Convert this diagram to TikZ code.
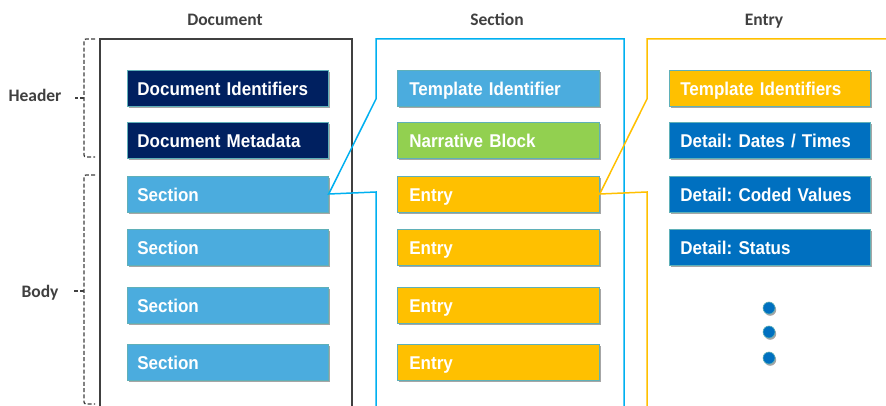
\documentclass[tikz,border=0pt]{standalone}
\usepackage{fontspec}
\setmainfont{Liberation Sans}
\newfontfamily\boxfont[FakeStretch=0.92]{Liberation Sans}
\newfontfamily\hdrfont{Carlito}
\usetikzlibrary{shadows}
\definecolor{navy}{HTML}{002060}
\definecolor{lblue}{HTML}{4BACDE}
\definecolor{lgreen}{HTML}{92D050}
\definecolor{yel}{HTML}{FFC000}
\definecolor{dblue}{HTML}{0070C0}
\definecolor{cyanf}{HTML}{00B0F0}
\definecolor{txtgray}{HTML}{404040}
\definecolor{edgec}{HTML}{5FB0B8}
\begin{document}
\frenchspacing
\begin{tikzpicture}[x=1pt,y=-1pt,
  shad/.style={drop shadow={shadow xshift=1.2pt, shadow yshift=-1.8pt, opacity=0.35, fill=black}},
  bx/.style={draw=edgec, line width=0.7pt, anchor=west, minimum height=36pt,
    text width=181pt, inner xsep=10pt, inner ysep=0pt, align=left, text=white,
    text height=14.4pt, text depth=0pt,
    font=\boxfont\fontsize{18.5}{21}\selectfont\bfseries\frenchspacing, shad},
  sbx/.style={bx, text width=178pt, inner xsep=12pt},
  ebx/.style={bx, text width=179pt, inner xsep=11pt},
  hdr/.style={font=\hdrfont\fontsize{17.5}{20}\selectfont\bfseries, text=txtgray, inner sep=0pt, anchor=base},
  brk/.style={draw=txtgray, dashed, dash pattern=on 4pt off 2.2pt, line width=1.3pt, rounded corners=2pt},
  dotc/.style={circle, fill=dblue, draw=edgec, line width=0.6pt, minimum size=12pt, inner sep=0pt, shad}
]
\useasboundingbox (0,0) rectangle (886,406);
\clip (0,0) rectangle (886,406);
\fill[white] (0,0) rectangle (886,406);

% column headers
\node[hdr] (hDoc) at (225,26) {Document};
\node[hdr] (hSec) at (497,26) {Section};
\node[hdr] (hEnt) at (764,26) {Entry};

% left labels
\node[hdr] (lHeader) at (35,102) {Header};
\node[hdr] (lBody) at (40,297) {Body};

% document column
\node[bx, fill=navy] (d1) at (127,88.5) {Document Identifiers};
\node[bx, fill=navy] (d2) at (127,140) {Document Metadata};
\node[bx, fill=lblue] (d3) at (127,194) {Section};
\node[bx, fill=lblue] (d4) at (127,247) {Section};
\node[bx, fill=lblue] (d5) at (127,305) {Section};
\node[bx, fill=lblue] (d6) at (127,362) {Section};

% section column
\node[sbx, fill=lblue] (s1) at (397,88.5) {Template Identifier};
\node[sbx, fill=lgreen] (s2) at (397,140) {Narrative Block};
\node[sbx, fill=yel] (s3) at (397,194) {Entry};
\node[sbx, fill=yel] (s4) at (397,247) {Entry};
\node[sbx, fill=yel] (s5) at (397,305) {Entry};
\node[sbx, fill=yel] (s6) at (397,362) {Entry};

% entry column
\node[ebx, fill=yel] (e1) at (669,88.5) {Template Identifiers};
\node[ebx, fill=dblue] (e2) at (669,140) {Detail: Dates / Times};
\node[ebx, fill=dblue] (e3) at (669,194) {Detail: Coded Values};
\node[ebx, fill=dblue] (e4) at (669,247) {Detail: Status};

\node[dotc] (dot1) at (769,308) {};
\node[dotc] (dot2) at (769,332) {};
\node[dotc] (dot3) at (769,358) {};

% frames
\coordinate (fdTop) at (100,39);
\draw[txtgray, line width=1.6pt] (100,420) -- (fdTop) -- (352,39) -- (352,420);

\coordinate (fsA) at (376,99);
\coordinate (fsB) at (376,192);
\draw[cyanf, line width=1.5pt, line join=miter]
  (376,420) -- (fsB) -- (d3.east) -- (fsA) -- (376,39) -- (624,39) -- (624,420);

\coordinate (feA) at (647,99);
\coordinate (feB) at (647,192);
\draw[yel, line width=1.5pt, line join=miter]
  (647,420) -- (feB) -- (s3.east) -- (feA) -- (647,39) -- (900,39);

% brackets
\draw[brk] (95,39) -- (84,39) -- (84,157) -- (95,157);
\coordinate (bhTip) at (75,98);
\draw[brk, rounded corners=0pt] (84,98) -- (bhTip);
\draw[brk] (95,175) -- (84,175) -- (84,404) -- (95,404);
\coordinate (bbTip) at (74,291);
\draw[brk, rounded corners=0pt] (84,291) -- (bbTip);
\end{tikzpicture}
\end{document}
